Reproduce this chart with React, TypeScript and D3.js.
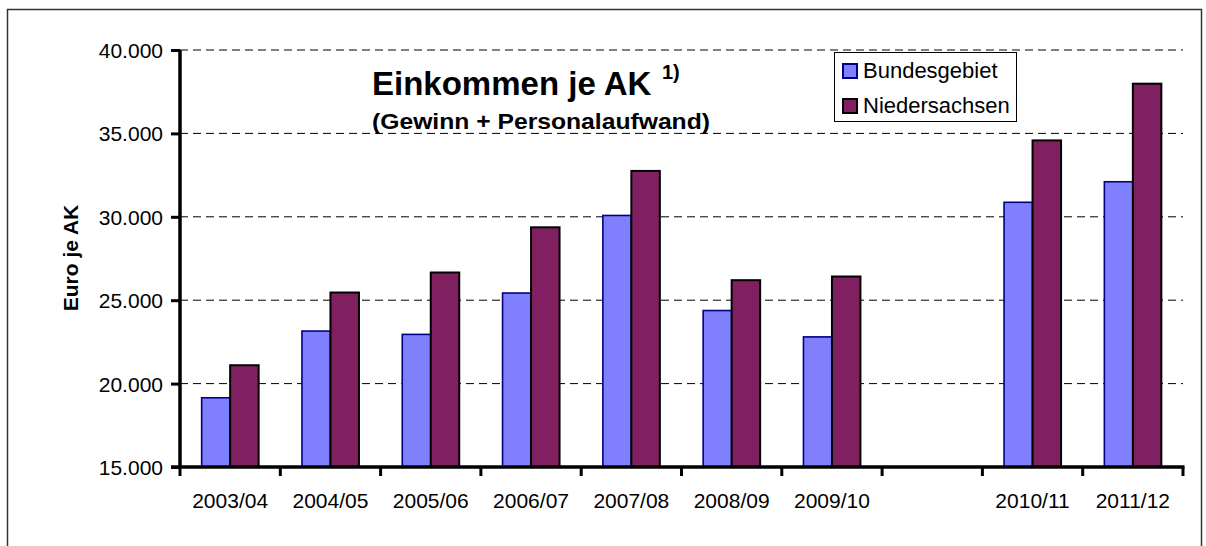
import React, { useEffect, useRef } from "react";
import * as d3 from "d3";

const categories = ["2003/04", "2004/05", "2005/06", "2006/07", "2007/08", "2008/09", "2009/10", "", "2010/11", "2011/12"];
const bundesgebiet = [19150, 23150, 22950, 25430, 30080, 24380, 22800, null, 30870, 32100];
const niedersachsen = [21100, 25460, 26660, 29370, 32750, 26200, 26420, null, 34580, 37980];
const yTicks = [15000, 20000, 25000, 30000, 35000, 40000];
const seriesNames = ["Bundesgebiet", "Niedersachsen"];
const seriesColors = ["#8080ff", "#802060"];
const seriesStrokes = ["#000080", "#000000"];

const FONT = "'Liberation Sans', Arial, sans-serif";

const App = () => {
  const svgRef = useRef<SVGSVGElement>(null);

  useEffect(() => {
    const svg = d3.select(svgRef.current);
    svg.selectAll("*").remove();

    const width = 1206;
    const height = 546;
    const margin = { top: 50, right: 23, bottom: 79, left: 180 };

    svg.attr("width", width).attr("height", height);

    // outer frame
    svg.append("rect")
      .attr("x", 7.5).attr("y", 9.5)
      .attr("width", 1194).attr("height", 545)
      .attr("fill", "white").attr("stroke", "#333").attr("stroke-width", 1.5);

    const x = d3.scaleBand()
      .domain(categories.map((c, i) => String(i)))
      .range([margin.left, width - margin.right])
      .padding(0);

    const inner = d3.scaleBand()
      .domain(seriesNames)
      .range([0, x.bandwidth()])
      .paddingInner(0)
      .paddingOuter(0.76);

    const y = d3.scaleLinear()
      .domain([15000, 40000])
      .range([height - margin.bottom, margin.top]);

    const fmt = (v: number) => d3.format(",")(v).replace(/,/g, ".");

    // gridlines
    svg.append("g")
      .selectAll("line")
      .data(yTicks.filter(t => t > 15000))
      .enter()
      .append("line")
      .attr("x1", margin.left).attr("x2", width - margin.right)
      .attr("y1", d => y(d)).attr("y2", d => y(d))
      .attr("stroke", "#000").attr("stroke-width", 1)
      .attr("stroke-dasharray", "8,5");

    // bars
    const data = [bundesgebiet, niedersachsen];
    data.forEach((vals, s) => {
      svg.append("g")
        .selectAll("rect")
        .data(vals.map((v, i) => ({ v, i })).filter(d => d.v !== null))
        .enter()
        .append("rect")
        .attr("x", d => (x(String(d.i)) as number) + (inner(seriesNames[s]) as number))
        .attr("y", d => y(d.v as number))
        .attr("width", inner.bandwidth())
        .attr("height", d => y(15000) - y(d.v as number))
        .attr("fill", seriesColors[s])
        .attr("stroke", seriesStrokes[s])
        .attr("stroke-width", s === 0 ? 1.6 : 2);
    });

    // y axis
    const yAxis = svg.append("g")
      .attr("transform", `translate(${margin.left},0)`)
      .call(d3.axisLeft(y).tickValues(yTicks).tickSize(9).tickPadding(8).tickFormat(d => fmt(d as number)));
    yAxis.select(".domain").remove();
    yAxis.selectAll(".tick line").attr("stroke", "#000").attr("stroke-width", 3);
    yAxis.selectAll(".tick text")
      .attr("font-family", FONT).attr("font-size", 21).attr("fill", "#000").attr("dy", "0.36em");
    svg.append("line")
      .attr("x1", margin.left).attr("x2", margin.left)
      .attr("y1", margin.top).attr("y2", y(15000))
      .attr("stroke", "#000").attr("stroke-width", 3.5);

    // x axis
    const boundaries = d3.range(categories.length + 1)
      .map(i => margin.left + i * x.step());
    svg.append("g")
      .selectAll("line")
      .data(boundaries)
      .enter()
      .append("line")
      .attr("x1", d => d).attr("x2", d => d)
      .attr("y1", y(15000)).attr("y2", y(15000) + 9)
      .attr("stroke", "#000").attr("stroke-width", 3);
    svg.append("line")
      .attr("x1", margin.left - 9).attr("x2", width - margin.right + 1.5)
      .attr("y1", y(15000)).attr("y2", y(15000))
      .attr("stroke", "#000").attr("stroke-width", 3.5);
    svg.append("g")
      .selectAll("text")
      .data(categories)
      .enter()
      .append("text")
      .attr("x", (d, i) => (x(String(i)) as number) + x.bandwidth() / 2)
      .attr("y", y(15000) + 41)
      .attr("text-anchor", "middle")
      .attr("font-family", FONT).attr("font-size", 21).attr("fill", "#000")
      .text(d => d);

    // y axis title
    svg.append("text")
      .attr("transform", `translate(78,258) rotate(-90)`)
      .attr("text-anchor", "middle")
      .attr("font-family", FONT).attr("font-size", 21).attr("font-weight", "bold")
      .text("Euro je AK");

    // title
    svg.append("text")
      .attr("x", 372).attr("y", 95)
      .attr("font-family", FONT).attr("font-size", 33).attr("font-weight", "bold")
      .text("Einkommen je AK");
    svg.append("text")
      .attr("x", 662).attr("y", 79)
      .attr("font-family", FONT).attr("font-size", 20).attr("font-weight", "bold")
      .text("1)");
    svg.append("text")
      .attr("x", 372).attr("y", 129)
      .attr("font-family", FONT).attr("font-size", 22).attr("font-weight", "bold")
      .attr("textLength", 338).attr("lengthAdjust", "spacingAndGlyphs")
      .text("(Gewinn + Personalaufwand)");

    // legend
    const lg = svg.append("g");
    lg.append("rect")
      .attr("x", 834.5).attr("y", 52.5).attr("width", 182).attr("height", 69)
      .attr("fill", "white").attr("stroke", "#000").attr("stroke-width", 1);
    seriesNames.forEach((name, i) => {
      lg.append("rect")
        .attr("x", 843).attr("y", 64 + i * 35)
        .attr("width", 14).attr("height", 14)
        .attr("fill", seriesColors[i]).attr("stroke", seriesStrokes[i]).attr("stroke-width", 2);
      lg.append("text")
        .attr("x", 863).attr("y", 78 + i * 35)
        .attr("font-family", FONT).attr("font-size", 22).attr("fill", "#000")
        .text(name);
    });
  }, []);

  return (
    <div>
      <svg ref={svgRef} style={{ position: "absolute", left: 0, top: 0 }}></svg>
    </div>
  );
};

export default App;
